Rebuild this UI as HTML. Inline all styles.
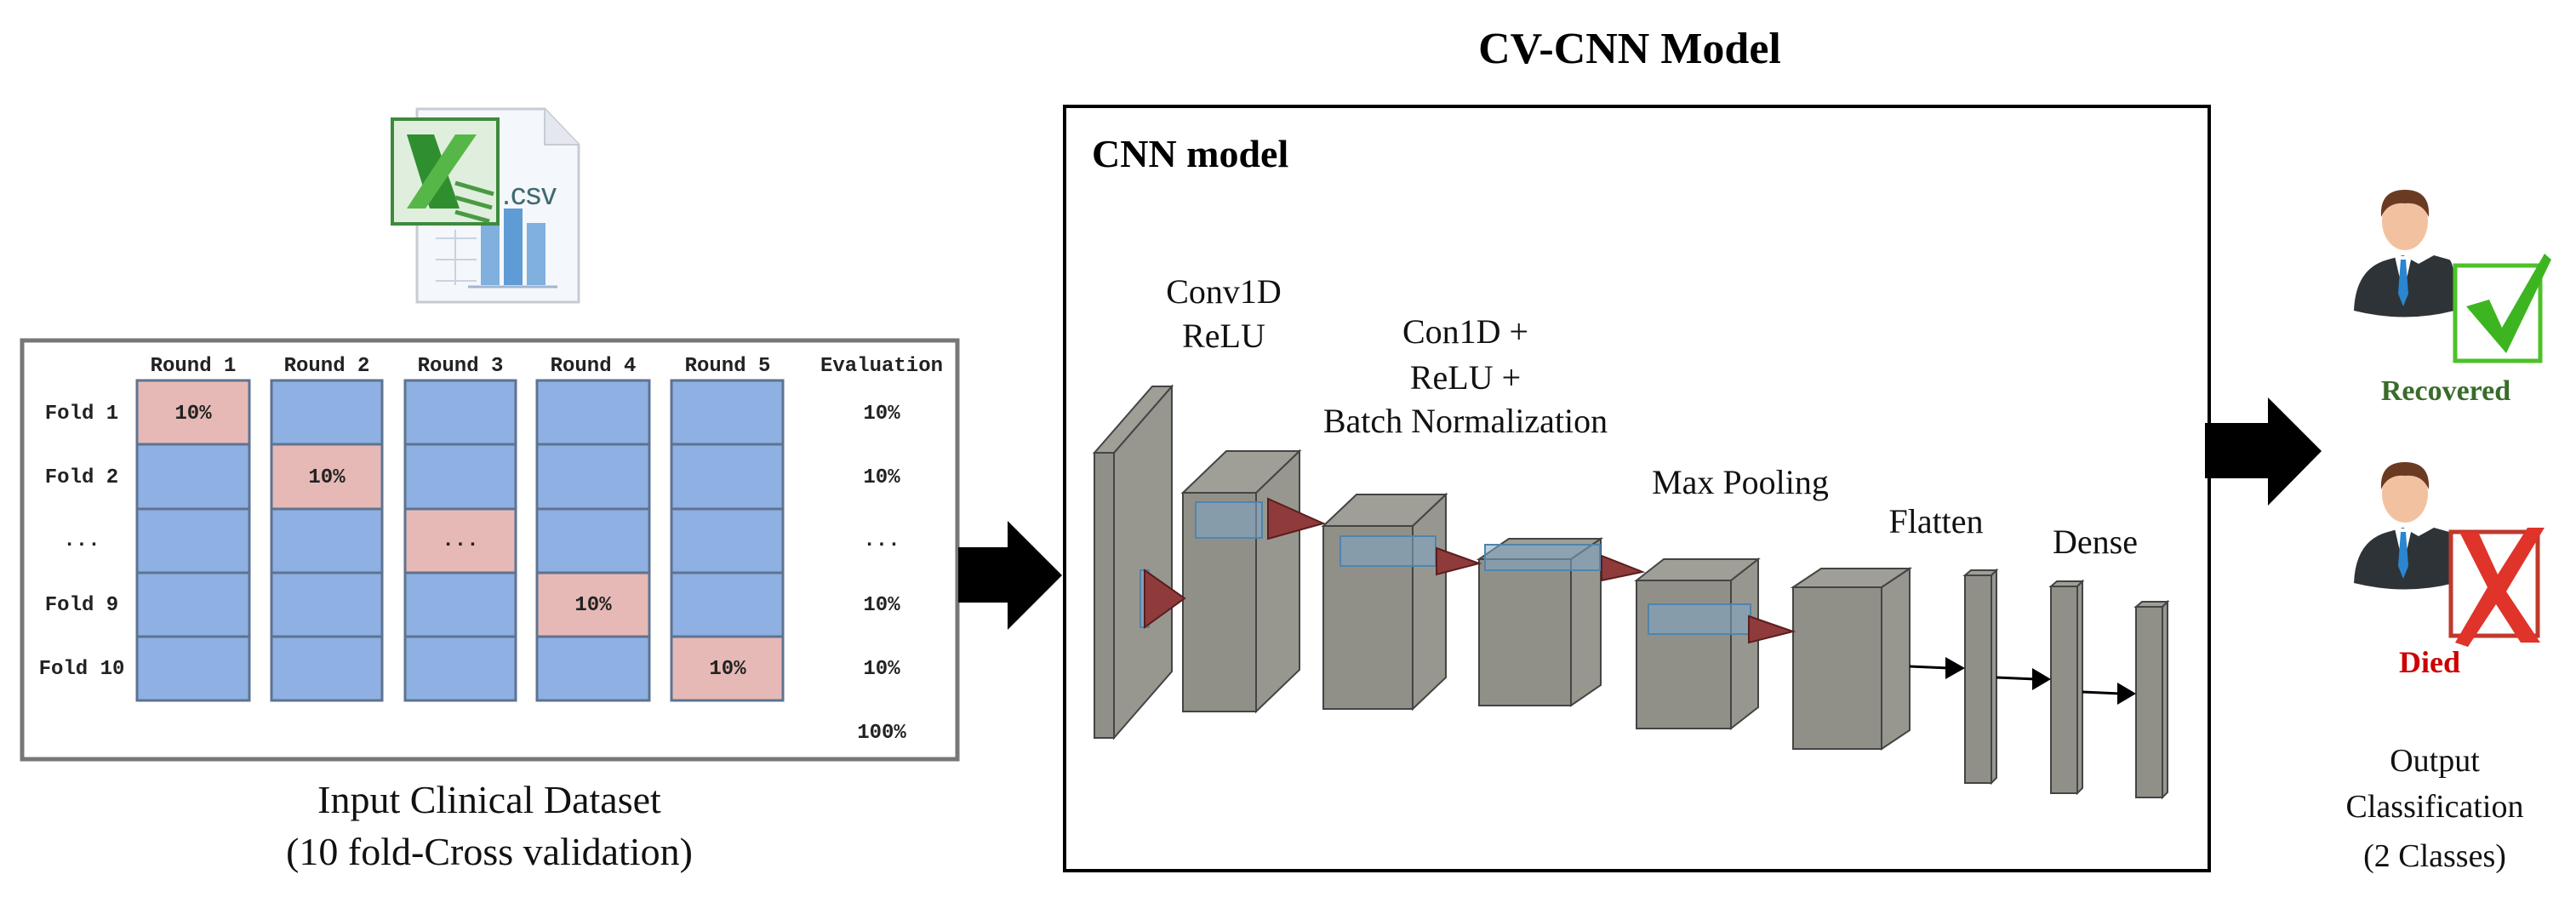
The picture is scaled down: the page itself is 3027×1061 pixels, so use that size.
<!DOCTYPE html>
<html><head><meta charset="utf-8"><style>
html,body{margin:0;padding:0;background:#fff;}
svg{display:block;}
.s{font-family:"Liberation Serif",serif;}
.m{font-family:"Liberation Mono",monospace;font-size:24px;fill:#222;font-weight:bold;}
</style></head><body>
<svg width="3027" height="1061" viewBox="0 0 3027 1061" xmlns="http://www.w3.org/2000/svg">
<rect width="3027" height="1061" fill="#fff"/>

<!-- Excel icon -->
<g>
 <path d="M490 128 L640 128 L680 170 L680 355 L490 355 Z" fill="#f4f7fb" stroke="#c8ccd2" stroke-width="3"/>
 <path d="M640 128 L640 170 L680 170" fill="#e4e8ee" stroke="#c8ccd2" stroke-width="2"/>
 <g stroke="#c9d3df" stroke-width="2" fill="none">
  <line x1="512" y1="280" x2="560" y2="280"/><line x1="512" y1="305" x2="560" y2="305"/><line x1="512" y1="330" x2="560" y2="330"/>
  <line x1="535" y1="270" x2="535" y2="335"/>
 </g>
 <rect x="565" y="265" width="22" height="70" fill="#7fb0de"/>
 <rect x="592" y="245" width="22" height="90" fill="#5f9bd4"/>
 <rect x="619" y="262" width="22" height="73" fill="#7fb0de"/>
 <line x1="550" y1="337" x2="655" y2="337" stroke="#9fb7d0" stroke-width="3"/>
 <rect x="461" y="140" width="124" height="123" fill="#dfeedd" stroke="#3d8a3d" stroke-width="4"/>
 <path d="M478 158 L510 158 L540 245 L505 245 Z" fill="#2f8f2f"/>
 <path d="M535 158 L560 158 L500 245 L478 245 Z" fill="#57b648"/>
 <g stroke="#4a9a44" stroke-width="5"><line x1="535" y1="215" x2="580" y2="228"/><line x1="535" y1="232" x2="578" y2="244"/><line x1="535" y1="249" x2="575" y2="260"/></g>
 <text x="590" y="240" font-family="Liberation Sans,sans-serif" font-size="36" fill="#3f6a6f">.csv</text>
</g>

<!-- CV table -->
<rect x="26" y="400" width="1099" height="492" fill="#fff" stroke="#777" stroke-width="5"/>
<g class="m" text-anchor="middle">
 <text x="227" y="436">Round 1</text><text x="384" y="436">Round 2</text><text x="541" y="436">Round 3</text><text x="697" y="436">Round 4</text><text x="855" y="436">Round 5</text><text x="1036" y="436">Evaluation</text>
 <text x="96" y="492">Fold 1</text><text x="96" y="567">Fold 2</text><text x="96" y="641">...</text><text x="96" y="717">Fold 9</text><text x="96" y="792">Fold 10</text>
 <text x="1036" y="492">10%</text><text x="1036" y="567">10%</text><text x="1036" y="641">...</text><text x="1036" y="717">10%</text><text x="1036" y="792">10%</text><text x="1036" y="867">100%</text>
</g>
<g stroke="#5f7390" stroke-width="3">
 <g fill="#8eb0e2">
  <rect x="161" y="447" width="132" height="75" fill="#e6b9b6"/><rect x="161" y="522" width="132" height="76"/><rect x="161" y="598" width="132" height="75"/><rect x="161" y="673" width="132" height="75"/><rect x="161" y="748" width="132" height="75"/>
  <rect x="319" y="447" width="130" height="75"/><rect x="319" y="522" width="130" height="76" fill="#e6b9b6"/><rect x="319" y="598" width="130" height="75"/><rect x="319" y="673" width="130" height="75"/><rect x="319" y="748" width="130" height="75"/>
  <rect x="476" y="447" width="130" height="75"/><rect x="476" y="522" width="130" height="76"/><rect x="476" y="598" width="130" height="75" fill="#e6b9b6"/><rect x="476" y="673" width="130" height="75"/><rect x="476" y="748" width="130" height="75"/>
  <rect x="631" y="447" width="132" height="75"/><rect x="631" y="522" width="132" height="76"/><rect x="631" y="598" width="132" height="75"/><rect x="631" y="673" width="132" height="75" fill="#e6b9b6"/><rect x="631" y="748" width="132" height="75"/>
  <rect x="789" y="447" width="131" height="75"/><rect x="789" y="522" width="131" height="76"/><rect x="789" y="598" width="131" height="75"/><rect x="789" y="673" width="131" height="75"/><rect x="789" y="748" width="131" height="75" fill="#e6b9b6"/>
 </g>
</g>
<g class="m" text-anchor="middle">
 <text x="227" y="492">10%</text><text x="384" y="567">10%</text><text x="541" y="641">...</text><text x="697" y="717">10%</text><text x="855" y="792">10%</text>
</g>
<g class="s" font-size="46" text-anchor="middle" fill="#111">
 <text x="575" y="955">Input Clinical Dataset</text>
 <text x="575" y="1016">(10 fold-Cross validation)</text>
</g>

<!-- left arrow -->
<polygon points="1126,643 1184,643 1184,612 1248,676 1184,740 1184,708 1126,708" fill="#000"/>

<!-- title -->
<text x="1915" y="74" class="s" font-size="52" font-weight="bold" text-anchor="middle">CV-CNN Model</text>
<rect x="1251" y="125" width="1345" height="898" fill="none" stroke="#000" stroke-width="4"/>
<text x="1283" y="196" class="s" font-size="46" font-weight="bold">CNN model</text>

<g class="s" font-size="40" text-anchor="middle" fill="#111">
 <text x="1438" y="356">Conv1D</text><text x="1438" y="408">ReLU</text>
 <text x="1722" y="403">Con1D +</text><text x="1722" y="457">ReLU +</text><text x="1722" y="508">Batch Normalization</text>
 <text x="2045" y="580">Max Pooling</text>
 <text x="2275" y="626">Flatten</text>
 <text x="2462" y="650">Dense</text>
</g>

<!-- layers -->
<g fill="#7c7c74" fill-opacity="0.85" stroke="#444" stroke-width="2">
 <polygon points="1309,532 1377,454 1377,789 1309,867" fill="#85857d"/>
 <polygon points="1286,532 1354,454 1377,454 1309,532" fill="#8e8e86"/>
 <rect x="1286" y="532" width="23" height="335"/>

 <polygon points="1476,579 1527,530 1527,787 1476,836" fill="#85857d"/>
 <polygon points="1390,579 1441,530 1527,530 1476,579" fill="#8e8e86"/>
 <rect x="1390" y="579" width="86" height="257"/>

 <polygon points="1660,618 1699,581 1699,796 1660,833" fill="#85857d"/>
 <polygon points="1555,618 1594,581 1699,581 1660,618" fill="#8e8e86"/>
 <rect x="1555" y="618" width="105" height="215"/>

 <polygon points="1846,657 1881,633 1881,805 1846,829" fill="#85857d"/>
 <polygon points="1738,657 1773,633 1881,633 1846,657" fill="#8e8e86"/>
 <rect x="1738" y="657" width="108" height="172"/>

 <polygon points="2034,682 2066,657 2066,831 2034,856" fill="#85857d"/>
 <polygon points="1923,682 1955,657 2066,657 2034,682" fill="#8e8e86"/>
 <rect x="1923" y="682" width="111" height="174"/>

 <polygon points="2211,690 2244,668 2244,858 2211,880" fill="#85857d"/>
 <polygon points="2107,690 2140,668 2244,668 2211,690" fill="#8e8e86"/>
 <rect x="2107" y="690" width="104" height="190"/>

 <polygon points="2309,676 2316,670 2346,670 2340,676" fill="#8e8e86"/>
 <rect x="2309" y="676" width="31" height="244"/>
 <polygon points="2340,676 2346,670 2346,914 2340,920" fill="#85857d"/>
 <polygon points="2410,689 2417,683 2447,683 2441,689" fill="#8e8e86"/>
 <rect x="2410" y="689" width="31" height="243"/>
 <polygon points="2441,689 2447,683 2447,926 2441,932" fill="#85857d"/>
 <polygon points="2510,713 2517,707 2547,707 2541,713" fill="#8e8e86"/>
 <rect x="2510" y="713" width="31" height="224"/>
 <polygon points="2541,713 2547,707 2547,931 2541,937" fill="#85857d"/>
</g>

<!-- blue slices -->
<g fill="#7fa6c6" fill-opacity="0.55" stroke="#4f85ad" stroke-width="2">
 <rect x="1340" y="670" width="10" height="67"/>
 <rect x="1405" y="590" width="78" height="42"/>
 <rect x="1575" y="630" width="112" height="35"/>
 <rect x="1745" y="640" width="135" height="30"/>
 <rect x="1937" y="710" width="120" height="35"/>
</g>
<!-- red cones -->
<g fill="#8f3b3b" stroke="#5a1e1e" stroke-width="2">
 <polygon points="1345,670 1392,703 1345,737"/>
 <polygon points="1490,586 1555,615 1490,633"/>
 <polygon points="1688,644 1738,662 1688,675"/>
 <polygon points="1882,653 1930,672 1882,682"/>
 <polygon points="2055,724 2107,742 2055,755"/>
</g>

<!-- small arrows -->
<g stroke="#000" stroke-width="3">
 <line x1="2244" y1="783" x2="2290" y2="785"/><line x1="2346" y1="796" x2="2392" y2="798"/><line x1="2447" y1="813" x2="2492" y2="815"/>
</g>
<g fill="#000">
 <polygon points="2286,772 2309,785 2286,798"/>
 <polygon points="2388,785 2410,798 2388,811"/>
 <polygon points="2488,802 2510,815 2488,828"/>
</g>

<!-- right arrow -->
<polygon points="2591,497 2665,497 2665,467 2728,530 2665,594 2665,562 2591,562" fill="#000"/>

<!-- persons -->
<defs>
 <g id="person">
  <path d="M0 150 Q2 100 40 90 L58 85 L76 95 L94 85 L112 90 Q120 95 118 150 Q60 165 0 150 Z" fill="#2e3338"/>
  <path d="M48 86 L58 130 L68 86 Z" fill="#fff"/>
  <path d="M55 90 L61 90 L64 130 L58 145 L52 130 Z" fill="#2a86d0"/>
  <ellipse cx="60" cy="45" rx="27" ry="34" fill="#f2c2a0"/>
  <path d="M32 40 Q30 8 60 8 Q90 8 88 40 Q80 22 60 24 Q40 22 32 40 Z" fill="#6b3a22"/>
 </g>
</defs>
<use href="#person" x="2766" y="215"/>
<use href="#person" x="2766" y="535"/>

<!-- check -->
<rect x="2885" y="312" width="100" height="112" fill="#fff" stroke="#4cc229" stroke-width="5"/>
<path d="M2898 360 L2925 352 L2940 385 L2990 298 L2998 305 L2945 415 Z" fill="#3db520"/>
<text x="2874" y="470" class="s" font-size="34" font-weight="bold" fill="#3a6b2a" text-anchor="middle">Recovered</text>

<!-- X -->
<rect x="2880" y="625" width="102" height="122" fill="#fff" stroke="#c0392b" stroke-width="5"/>
<path d="M2890 625 L2912 625 L2935 675 L2970 620 L2990 620 L2945 695 L2985 755 L2962 755 L2933 710 L2900 760 L2885 755 L2923 690 Z" fill="#e0332a"/>
<text x="2855" y="790" class="s" font-size="36" font-weight="bold" fill="#cc0000" text-anchor="middle">Died</text>

<g class="s" font-size="38" text-anchor="middle" fill="#111">
 <text x="2861" y="906">Output</text>
 <text x="2861" y="960">Classification</text>
 <text x="2861" y="1018">(2 Classes)</text>
</g>
</svg>
</body></html>
